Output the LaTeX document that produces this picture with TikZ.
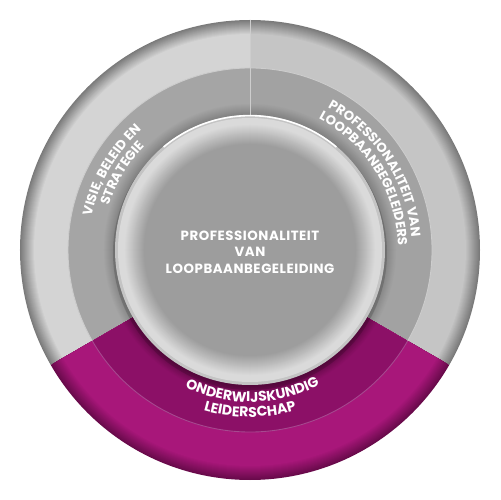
\documentclass[tikz,border=0pt]{standalone}
\usepackage{fontspec}
\setmainfont{Poppins}
\usetikzlibrary{decorations.text}

\definecolor{rimgrey}{HTML}{7A7A7A}
\definecolor{bandgrey}{HTML}{D4D4D4}
\definecolor{bandright}{HTML}{C5C5C5}
\definecolor{midgrey}{HTML}{A5A5A5}
\definecolor{midright}{HTML}{A2A2A2}
\definecolor{shadowgrey}{HTML}{808080}
\definecolor{coregrey}{HTML}{9D9D9D}
\definecolor{ringlight}{HTML}{DADADA}
\definecolor{plum}{HTML}{A8177A}
\definecolor{plumdark}{HTML}{8C1067}
\definecolor{plumshadow}{HTML}{5E0843}
\definecolor{plumrim}{HTML}{690A4B}
\definecolor{plumline}{HTML}{A6498F}
\definecolor{greyline}{HTML}{CDCDCD}

\newcommand{\ringfont}{\fontsize{7.5}{9.4}\selectfont\bfseries}
\newcommand{\plumfont}{\fontsize{8}{10}\selectfont\bfseries}

\tikzstyle{ringtext}=[decorate, decoration={text along path, text align=center, text color=white}]
\tikzstyle{divider}=[draw=greyline, line width=0.5pt]
\tikzstyle{seam}=[draw=plumline, line width=0.5pt]
\tikzstyle{coretext}=[align=center, text=white, inner sep=0pt, font=\fontsize{7.6}{9.4}\selectfont\bfseries\addfontfeature{LetterSpace=4}]

\begin{document}
\begin{tikzpicture}[x=0.02cm, y=0.02cm]
    \useasboundingbox (-250,-250) rectangle (250,250);

    % three sectors: outer band, middle ring
    \foreach \from/\to/\band/\mid/\dark/\rim in {90/210/bandgrey/midgrey/shadowgrey/rimgrey, -30/90/bandright/midright/shadowgrey/rimgrey, 210/330/plum/plumdark/plumshadow/plumrim}{
        \begin{scope}
            \clip (0,0) -- (\from:240) arc[start angle=\from, end angle=\to, radius=240] -- cycle;
            \foreach \i in {0,...,14}{
                \pgfmathtruncatemacro\mix{100*\i/14}
                \fill[\band!\mix!\rim] (0,0) circle ({230-\i});
            }
            \fill[\mid] (0,0) circle (182);
            \foreach \i in {0,...,12}{
                \pgfmathtruncatemacro\mix{100*\i/12}
                \fill[\dark!\mix!\mid] (0,0) circle ({147-\i});
            }
        \end{scope}
    }
    \path[divider] (90:135) -- (90:230);
    \path[divider] (-30:182) arc[start angle=-30, end angle=210, radius=182];
    \path[seam] (210:182) arc[start angle=210, end angle=330, radius=182];

    % core
    \fill[black, opacity=0.15] (0,-3) circle (137);
    \fill[ringlight!90!black] (0,0) circle (135);
    \fill[ringlight] (0,0) circle (132);
    \foreach \i in {0,...,20}{
        \pgfmathtruncatemacro\mix{100*\i/20}
        \fill[coregrey!\mix!ringlight] (0,0) circle ({126-\i});
    }
    \draw[white, line width=0.9pt] (50:134.4) arc[start angle=50, end angle=130, radius=134.4];
    \node[coretext] (core) at (0,-2) {PROFESSIONALITEIT\\VAN\\LOOPBAANBEGELEIDING};

    % ring labels
    \path[ringtext, decoration={text={|\ringfont|VISIE{,} BELEID EN}}] (200:162) arc[start angle=200, end angle=100, radius=162];
    \path[ringtext, decoration={text={|\ringfont|STRATEGIE}}] (199:148) arc[start angle=199, end angle=99, radius=148];
    \path[ringtext, decoration={text={|\ringfont|PROFESSIONALITEIT VAN}}] (83:162) arc[start angle=83, end angle=-17, radius=162];
    \path[ringtext, decoration={text={|\ringfont|LOOPBAANBEGELEIDERS}}] (82:148) arc[start angle=82, end angle=-18, radius=148];
    \path[ringtext, decoration={text={|\plumfont|ONDERWIJSKUNDIG}}] (221:152) arc[start angle=221, end angle=321, radius=152];
    \path[ringtext, decoration={text={|\plumfont|LEIDERSCHAP}}] (220:167) arc[start angle=220, end angle=320, radius=167];
\end{tikzpicture}
\end{document}
